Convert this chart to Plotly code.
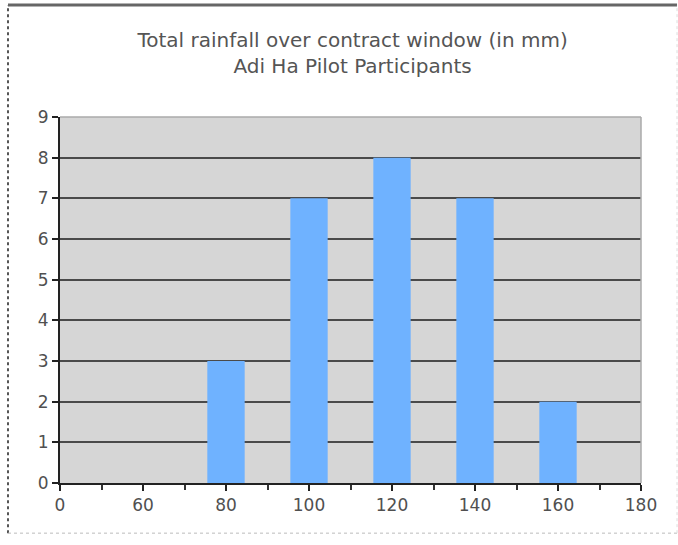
import plotly.graph_objects as go

# Rainfall bins (mm) shown along the axis and the participant count in each bin
bin_labels = ["0", "60", "80", "100", "120", "140", "160", "180"]
bar_bins = ["80", "100", "120", "140", "160"]
participants = [3, 7, 8, 7, 2]

pos = {lab: i for i, lab in enumerate(bin_labels)}
bar_x = [pos[b] for b in bar_bins]

fig = go.Figure()
fig.add_trace(go.Bar(
    x=bar_x, y=participants, width=0.45,
    marker=dict(color="#6fb2ff", line=dict(width=0)),
))

font_family = "DejaVu Sans, Verdana, sans-serif"

fig.update_layout(
    width=678, height=545,
    margin=dict(l=60, r=37, t=117, b=62),
    paper_bgcolor="white",
    plot_bgcolor="#d6d6d6",
    showlegend=False,
    title=dict(
        text="Total rainfall over contract window (in mm)<br>Adi Ha Pilot Participants",
        x=0.52, xanchor="center", y=0.914, yanchor="top",
        font=dict(family=font_family, size=20, color="#555555"),
    ),
    xaxis=dict(
        range=[0, 7],
        tickvals=list(range(len(bin_labels))), ticktext=bin_labels,
        showgrid=False, zeroline=False,
        showline=True, linecolor="#222222", linewidth=2,
        ticks="outside", ticklen=6, tickwidth=2, tickcolor="#222222",
        minor=dict(dtick=0.5, tick0=0, ticks="outside", ticklen=5, tickwidth=2, tickcolor="#333333"),
        tickfont=dict(family=font_family, size=17, color="#505050"),
        mirror=False,
    ),
    yaxis=dict(
        range=[0, 9], dtick=1,
        showgrid=True, gridcolor="#4a4a4a", gridwidth=2,
        zeroline=False,
        showline=True, linecolor="#222222", linewidth=2,
        ticks="outside", ticklen=6, tickwidth=2, tickcolor="#222222",
        tickfont=dict(family=font_family, size=17, color="#505050"),
    ),
    shapes=[
        # light frame on top and right of the plot area
        dict(type="line", xref="x domain", yref="y domain", x0=0, x1=1, y0=1, y1=1,
             line=dict(color="#aaaaaa", width=1.5), layer="above"),
        dict(type="line", xref="x domain", yref="y domain", x0=1, x1=1, y0=0, y1=1,
             line=dict(color="#aaaaaa", width=1.5), layer="above"),
        # outer chart border
        dict(type="line", xref="paper", yref="paper", x0=-0.0895, x1=-0.0895, y0=-0.137, y1=1.306,
             line=dict(color="#555555", width=2, dash="dot")),
        dict(type="line", xref="paper", yref="paper", x0=-0.0895, x1=1.062, y0=1.306, y1=1.306,
             line=dict(color="#666666", width=3)),
        dict(type="line", xref="paper", yref="paper", x0=-0.0895, x1=1.062, y0=-0.137, y1=-0.137,
             line=dict(color="#bbbbbb", width=1, dash="dot")),
        dict(type="line", xref="paper", yref="paper", x0=1.062, x1=1.062, y0=-0.137, y1=1.306,
             line=dict(color="#dddddd", width=1, dash="dot")),
    ],
)

fig.write_html("out.html")
